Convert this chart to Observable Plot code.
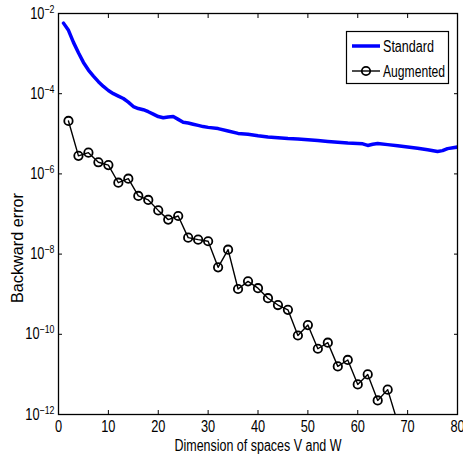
<!DOCTYPE html>
<html>
<head>
<meta charset="utf-8">
<script src="https://cdn.jsdelivr.net/npm/d3@7"></script>
<script src="https://cdn.jsdelivr.net/npm/@observablehq/plot@0.6"></script>
<style>
  body { margin: 0; background: #fff; }
</style>
</head>
<body>
<div id="chart"></div>
<script>
// Standard method: dimension and log10(backward error)
const stdDim = [1,2,3,4,5,6,7,8,9,10,11,12,13,14,15,16,17,18,19,20,21,22,23,24,25,26,27,28,29,30,32,34,36,38,40,42,44,46,48,50,52,54,56,58,60,61,62,63,64,66,68,70,72,74,76,77,78,80];
const stdLog = [-2.24,-2.42,-2.72,-2.98,-3.22,-3.41,-3.56,-3.70,-3.82,-3.92,-4.00,-4.06,-4.12,-4.21,-4.32,-4.37,-4.40,-4.45,-4.51,-4.57,-4.60,-4.58,-4.57,-4.64,-4.71,-4.73,-4.76,-4.79,-4.82,-4.84,-4.87,-4.93,-4.99,-5.01,-5.05,-5.08,-5.10,-5.12,-5.13,-5.15,-5.17,-5.19,-5.21,-5.23,-5.24,-5.25,-5.29,-5.26,-5.24,-5.27,-5.30,-5.33,-5.36,-5.40,-5.44,-5.42,-5.37,-5.33];
// Augmented method
const augDim = [2,4,6,8,10,12,14,16,18,20,22,24,26,28,30,32,34,36,38,40,42,44,46,48,50,52,54,56,58,60,62,64,66,68];
const augLog = [-4.68,-5.55,-5.47,-5.71,-5.78,-6.22,-6.12,-6.55,-6.65,-6.91,-7.14,-7.05,-7.59,-7.64,-7.68,-8.33,-7.89,-8.87,-8.68,-8.85,-9.10,-9.27,-9.39,-10.03,-9.77,-10.36,-10.21,-10.80,-10.64,-11.25,-11.00,-11.65,-11.38,-12.2];
const xTicks = [0,10,20,30,40,50,60,70,80];
const yTickExps = [-2,-4,-6,-8,-10,-12];
const seriesNames = ["Standard", "Augmented"];
const seriesColors = ["#0000ff", "#000000"];

const stdData = stdDim.map((d, i) => ({x: d, y: Math.pow(10, stdLog[i])}));
const augData = augDim.map((d, i) => ({x: d, y: Math.pow(10, augLog[i])}));
const yTicks = yTickExps.map(e => Math.pow(10, e));

const FONT = "'Liberation Sans', Arial, sans-serif";
const W = 463, H = 457;
const plot = Plot.plot({
  width: W,
  height: H,
  marginLeft: 58,
  marginRight: 6,
  marginTop: 13,
  marginBottom: 43,
  style: {fontSize: "16px", fontFamily: FONT, background: "#fff"},
  x: {domain: [0, 80]},
  y: {type: "log", domain: [1e-12, 1e-2]},
  marks: [
    Plot.line(stdData, {x: "x", y: "y", stroke: seriesColors[0], strokeWidth: 3.5, clip: true}),
    Plot.line(augData, {x: "x", y: "y", stroke: seriesColors[1], strokeWidth: 1.4, clip: true}),
    Plot.dot(augData, {x: "x", y: "y", r: 4.2, stroke: seriesColors[1], strokeWidth: 1.8, fill: "none", clip: true}),
    // inward ticks on all four sides
    Plot.axisX(xTicks, {anchor: "bottom", tickSize: -4, text: null, label: null, strokeWidth: 1}),
    Plot.axisX(xTicks, {anchor: "top", tickSize: -4, text: null, label: null, strokeWidth: 1}),
    Plot.axisY(yTicks, {anchor: "left", tickSize: -4, text: null, label: null, strokeWidth: 1}),
    Plot.axisY(yTicks, {anchor: "right", tickSize: -4, text: null, label: null, strokeWidth: 1}),
    // tick labels
    Plot.axisX(xTicks, {anchor: "bottom", tickSize: 0, tickPadding: 6, label: null, fill: "#000", fontSize: 16}),
    Plot.axisY(yTicks, {anchor: "left", tickSize: 0, tickPadding: 4, label: null, fill: "#000", fontSize: 16,
      tickFormat: d => "10^" + Math.round(Math.log10(d))}),
    Plot.frame({stroke: "#000", strokeWidth: 1.3})
  ]
});

document.getElementById("chart").appendChild(plot);
const svg = d3.select(plot);

// condensed look for tick labels (scale around the anchor point)
function condense(sel) {
  sel.each(function() {
    const t = d3.select(this);
    const tr = t.attr("transform") || "";
    t.attr("transform", tr + " scale(0.8,1)");
  });
}

// superscript exponents on y tick labels
svg.selectAll('g[aria-label="y-axis tick label"] text').each(function() {
  const t = d3.select(this);
  const s = t.text();
  const m = s.match(/^10\^(-?\d+)$/);
  if (!m) return;
  t.text(null);
  t.append("tspan").text("10");
  t.append("tspan").attr("dy", "-0.55em").attr("font-size", "11px").text("\u2212" + m[1].replace("-", ""));
});
condense(svg.selectAll('g[aria-label="y-axis tick label"] text'));
condense(svg.selectAll('g[aria-label="x-axis tick label"] text'));

// axis titles
svg.append("text").attr("x", 258).attr("y", 451).attr("text-anchor", "middle")
  .attr("font-size", 16).attr("font-family", FONT).attr("fill", "#000")
  .attr("textLength", 167).attr("lengthAdjust", "spacingAndGlyphs")
  .text("Dimension of spaces V and W");
svg.append("text").attr("transform", "translate(23,248) rotate(-90)").attr("text-anchor", "middle")
  .attr("font-size", 16).attr("font-family", FONT).attr("fill", "#000")
  .attr("textLength", 110).attr("lengthAdjust", "spacingAndGlyphs")
  .text("Backward error");

// legend
const lg = svg.append("g");
lg.append("rect").attr("x", 346.5).attr("y", 31.5).attr("width", 102).attr("height", 52)
  .attr("fill", "#fff").attr("stroke", "#000").attr("stroke-width", 1.2);
const rows = [46, 71];
seriesNames.forEach((name, i) => {
  lg.append("line").attr("x1", 352).attr("x2", 380).attr("y1", rows[i]).attr("y2", rows[i])
    .attr("stroke", seriesColors[i]).attr("stroke-width", i === 0 ? 3.5 : 1.4);
  if (i === 1) lg.append("circle").attr("cx", 366).attr("cy", rows[i]).attr("r", 4.2)
    .attr("fill", "none").attr("stroke", "#000").attr("stroke-width", 1.8);
  lg.append("text").attr("x", 383).attr("y", rows[i]).attr("dy", "0.35em")
    .attr("text-anchor", "start").attr("font-size", 16).attr("font-family", FONT).attr("fill", "#000")
    .attr("textLength", i === 0 ? 51 : 62).attr("lengthAdjust", "spacingAndGlyphs")
    .text(name);
});
</script>
</body>
</html>
